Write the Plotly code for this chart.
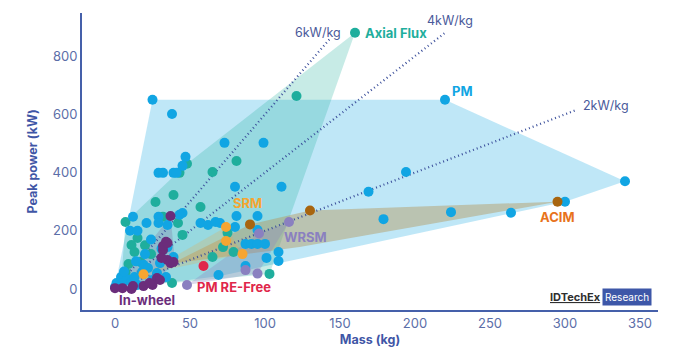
import plotly.graph_objects as go

FONT = "Inter"

# ---------------- data ----------------
pm_mass = [25, 38, 220, 340, 300, 73, 99, 47, 45, 29, 32, 39, 41, 194, 169, 179, 224, 264, 111, 80, 81, 95,
           80, 95, 87, 91, 95, 100, 101, 109, 109, 87, 69, 12, 10, 15, 21, 29, 29, 35, 45, 57, 62, 67, 70, 31,
           43, 0, 1, 4, 5, 8, 11, 13, 15, 18, 19, 22, 25, 28, 30, 32, 34, 35, 39, 24, 14, 20, 6, 2]
pm_power = [650, 601, 650, 370, 300, 502, 502, 454, 423, 399, 399, 399, 399, 402, 334, 240, 264, 262, 351, 351, 251, 251,
            213, 203, 155, 155, 155, 155, 107, 127, 96, 79, 48, 248, 200, 200, 227, 248, 227, 220, 261, 227, 220, 230, 227, 138,
            255, 7, 21, 41, 21, 34, 24, 41, 14, 58, 83, 72, 31, 55, 89, 134, 41, 144, 110, 170, 95, 120, 60, 10]

ax_mass = [160, 121, 81, 65, 48, 43, 7, 27, 39, 57, 11, 13, 9, 7, 17, 42, 45, 32, 38, 75, 79, 103, 65, 72, 20, 15, 4, 24]
ax_power = [880, 663, 440, 402, 430, 399, 230, 299, 323, 282, 151, 127, 86, 58, 93, 227, 186, 248, 21, 193, 127, 52, 110, 144, 150, 175, 15, 120]

iw_mass = [37, 34, 32, 35, 31, 37, 39, 28, 30, 25, 19, 11, 5, 0, 23, 12, 32, 35]
iw_power = [251, 162, 134, 100, 107, 89, 93, 38, 31, 14, 10, 0, 3, 3, 21, 10, 148, 158]

wrsm_mass = [116, 96, 87, 95, 48]
wrsm_power = [230, 191, 65, 53, 14]

srm_mass = [19, 74, 74, 85]
srm_power = [51, 213, 165, 120]

acim_mass = [90, 130, 295]
acim_power = [222, 270, 300]

refree_mass = [59]
refree_power = [79]

# hull outlines (data space)
pm_hull_mass = [25, 220, 340, 300, 70, 2, 0]
pm_hull_power = [650, 650, 370, 300, 45, 0, 8]
ax_hull_mass = [160, 103, 38, 4, 7, 48]
ax_hull_power = [880, 52, 21, 15, 230, 430]
acim_hull_mass = [295, 130, 90, 38, 123]
acim_hull_power = [300, 270, 222, 88, 144]
wrsm_hull_mass = [48, 95, 116, 96]
wrsm_hull_power = [14, 53, 230, 191]
iw_hull_mass = [37, 40, 25, 11, 0]
iw_hull_power = [251, 93, 14, 0, 3]
srm_hull_mass = [19, 74, 85]
srm_hull_power = [51, 213, 120]

# power density reference lines (kW/kg) and their mass extents
density_values = [6, 4, 2]
density_max_mass = [143, 220, 308]
density_labels = ["6kW/kg", "4kW/kg", "2kW/kg"]
density_label_pos = [(135, 882), (223, 922), (327, 632)]

x_ticks = [0, 50, 100, 150, 200, 250, 300, 350]
y_ticks = [0, 200, 400, 600, 800]

# ---------------- figure ----------------
fig = go.Figure()

def hull(xs, ys, color):
    fig.add_trace(go.Scatter(x=xs + xs[:1], y=ys + ys[:1], mode="lines", fill="toself",
                             fillcolor=color, line=dict(width=0), hoverinfo="skip", showlegend=False))

hull(pm_hull_mass, pm_hull_power, "rgba(17,165,227,0.27)")
hull(ax_hull_mass, ax_hull_power, "rgba(31,174,157,0.25)")
hull(acim_hull_mass, acim_hull_power, "rgba(180,150,90,0.45)")
hull(wrsm_hull_mass, wrsm_hull_power, "rgba(138,128,192,0.30)")
hull(iw_hull_mass, iw_hull_power, "rgba(107,45,123,0.18)")
hull(srm_hull_mass, srm_hull_power, "rgba(245,165,51,0.22)")

for d, mm in zip(density_values, density_max_mass):
    fig.add_trace(go.Scatter(x=[0, mm], y=[0, d * mm], mode="lines",
                             line=dict(color="#3b4f9b", width=2.2, dash="1px,3px"),
                             hoverinfo="skip", showlegend=False))

def pts(xs, ys, color):
    fig.add_trace(go.Scatter(x=xs, y=ys, mode="markers",
                             marker=dict(color=color, size=10, line=dict(width=0)),
                             showlegend=False))

pts(ax_mass, ax_power, "#1fae9d")
pts(pm_mass, pm_power, "#11a5e3")
pts(iw_mass, iw_power, "#6b2d7b")
pts(wrsm_mass, wrsm_power, "#8a80c0")
pts(srm_mass, srm_power, "#f6a531")
pts(acim_mass, acim_power, "#a8650f")
pts(refree_mass, refree_power, "#e0264a")

for lab, (lx, ly) in zip(density_labels, density_label_pos):
    fig.add_annotation(x=lx, y=ly, text=lab, showarrow=False,
                       font=dict(family=FONT, size=12.5, color="#4a5a9a"))

cat_labels = [
    ("Axial Flux", 165, 880, "left", "#1fae9d"),
    ("PM", 223, 680, "left", "#11a5e3"),
    ("SRM", 88, 295, "center", "#f6a531"),
    ("WRSM", 127, 178, "center", "#8a80c0"),
    ("ACIM", 295, 248, "center", "#e8731c"),
    ("PM RE-Free", 79, 7, "center", "#e0264a"),
    ("In-wheel", 21, -38, "center", "#6b2d7b"),
]
for txt, lx, ly, anc, col in cat_labels:
    fig.add_annotation(x=lx, y=ly, text="<b>%s</b>" % txt, showarrow=False, xanchor=anc,
                       font=dict(family=FONT, size=13, color=col))

# logo
fig.add_annotation(x=307, y=-28, text="<b><u>IDTechEx</u></b>", showarrow=False,
                   font=dict(family=FONT, size=11, color="#2f2f2f"))
fig.add_annotation(x=341, y=-28, text="Research", showarrow=False, bgcolor="#3d57a8",
                   borderpad=2, font=dict(family=FONT, size=10, color="#ffffff"))

axis_col = "#4560aa"
fig.update_xaxes(range=[-22, 362], tickvals=x_ticks, showgrid=False, zeroline=False,
                 showline=True, linecolor=axis_col, linewidth=2, ticks="", automargin=False,
                 tickfont=dict(family=FONT, size=13, color="#5b6ea8"),
                 title=dict(text="<b>Mass (kg)</b>", standoff=6,
                            font=dict(family=FONT, size=12.5, color="#3f56a6")))
fig.update_yaxes(range=[-72, 948], tickvals=y_ticks, showgrid=False, zeroline=False,
                 showline=True, linecolor=axis_col, linewidth=2, ticks="", automargin=False,
                 tickfont=dict(family=FONT, size=13, color="#5b6ea8"),
                 title=dict(text="<b>Peak power (kW)</b>", standoff=12,
                            font=dict(family=FONT, size=12.5, color="#3f56a6")))

# the page body adds an 8px offset, so the figure is drawn 8px smaller/shifted
fig.update_layout(width=685, height=351, margin=dict(l=74, r=35, t=5, b=49),
                  plot_bgcolor="white", paper_bgcolor="white", showlegend=False)

fig.write_html("out.html")
